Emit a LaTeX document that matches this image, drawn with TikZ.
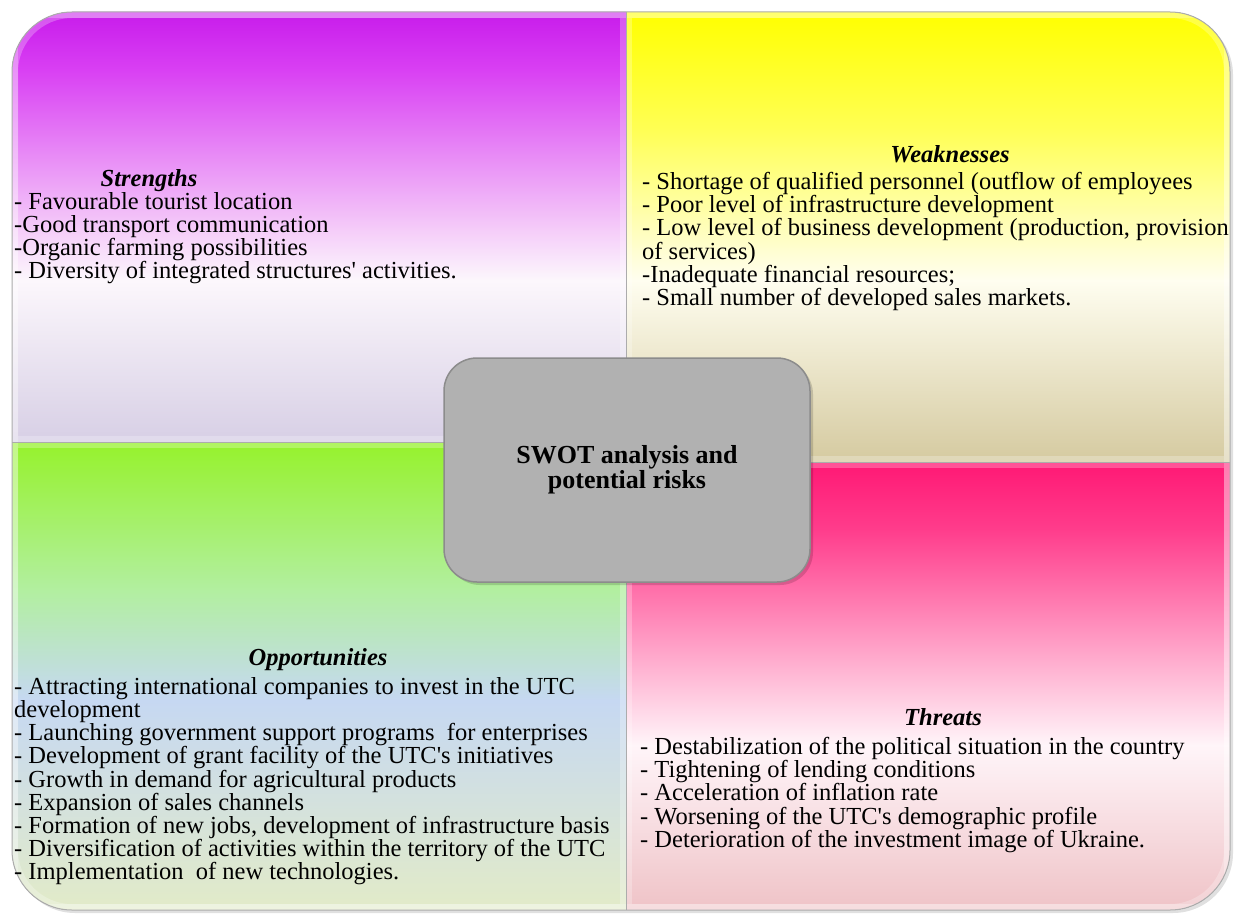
\documentclass[tikz,border=0pt]{standalone}
\usepackage{fontspec}
\setmainfont{Liberation Serif}[Ligatures=TeXOff]
\definecolor{sA}{HTML}{C81CEB}
\definecolor{sB}{HTML}{D940F3}
\definecolor{sC}{HTML}{F5CDF9}
\definecolor{sD}{HTML}{FCF7FC}
\definecolor{sE}{HTML}{D7CFE5}
\definecolor{wA}{HTML}{FFFF00}
\definecolor{wB}{HTML}{FFFF55}
\definecolor{wC}{HTML}{FFFEF0}
\definecolor{wD}{HTML}{D5CAA0}
\definecolor{oA}{HTML}{96F22C}
\definecolor{oB}{HTML}{B2EFA0}
\definecolor{oC}{HTML}{C6D8F2}
\definecolor{oD}{HTML}{E2EBC8}
\definecolor{tA}{HTML}{FF1874}
\definecolor{tB}{HTML}{FF3D8C}
\definecolor{tC}{HTML}{FFF5F9}
\definecolor{tD}{HTML}{EFC3C7}
\definecolor{boxgray}{HTML}{B1B1B1}
\definecolor{boxline}{HTML}{8C8C8C}
\newcommand\gradseg[6]{\fill[top color=#5,bottom color=#6,draw=none] (#1,#3) rectangle (#2,#4);}
\begin{document}
\begin{tikzpicture}[x=1pt,y=-1pt,
  body/.style={anchor=north west, align=left, inner sep=0pt, font=\fontsize{24.5}{23.2}\selectfont},
  ttl/.style={anchor=base, inner sep=0pt, font=\fontsize{24.5}{23.2}\selectfont\bfseries\itshape},
  glow/.style={white, opacity=.25, line width=12pt},
  edge/.style={gray!65, line width=1pt},
  centerbox/.style={draw=boxline, fill=boxgray, line width=1.5pt, rounded corners=33pt,
    minimum width=366pt, minimum height=224pt, align=center, inner sep=0pt,
    font=\fontsize{26}{25}\selectfont\bfseries}]
\useasboundingbox (0,0) rectangle (1234,915);
\fill[white] (0,0) rectangle (1234,915);
% drop shadow of the whole panel
\fill[black, opacity=.12, rounded corners=60pt] (15,15) rectangle (1233,913);
% gradient fills
\begin{scope}
\clip[rounded corners=60pt] (12,12) rectangle (1230,910);
% Strengths
\gradseg{12}{626}{12}{70.5}{sA}{sB}
\gradseg{12}{626}{70}{230.5}{sB}{sC}
\gradseg{12}{626}{230}{280.5}{sC}{sD}
\gradseg{12}{626}{280}{442}{sD}{sE}
% Weaknesses
\gradseg{626}{1230}{12}{130.5}{wA}{wB}
\gradseg{626}{1230}{130}{280.5}{wB}{wC}
\gradseg{626}{1230}{280}{462}{wC}{wD}
% Opportunities
\gradseg{12}{626}{442}{590.5}{oA}{oB}
\gradseg{12}{626}{590}{700.5}{oB}{oC}
\gradseg{12}{626}{700}{910}{oC}{oD}
% Threats
\gradseg{626}{1230}{462}{530.5}{tA}{tB}
\gradseg{626}{1230}{530}{745.5}{tB}{tC}
\gradseg{626}{1230}{745}{910}{tC}{tD}
\end{scope}
% inner bevel glow of each quadrant
\foreach \xa/\ya/\xb/\yb in {12/12/626/442, 626/12/1230/462, 12/442/626/910, 626/462/1230/910}{
  \begin{scope}
  \clip[rounded corners=60pt] (12,12) rectangle (1230,910);
  \clip (\xa,\ya) rectangle (\xb,\yb);
  \draw[glow, rounded corners=60pt] (12,12) rectangle (1230,910);
  \draw[glow] (\xa,\ya) rectangle (\xb,\yb);
  \end{scope}
}
% outlines
\draw[edge, rounded corners=60pt] (12,12) rectangle (1230,910);
\draw[edge] (626,12) -- (626,910);
\draw[edge] (12,442) -- (626,442);
\draw[edge] (626,462) -- (1230,462);
% Strengths
\node[ttl] (sttl) at (149,186) {Strengths};
\node[body] (sbody) at (14,192) {- Favourable tourist location\\
-Good transport communication\\
-Organic farming possibilities\\
- Diversity of integrated structures' activities.};
% Weaknesses
\node[ttl] (wttl) at (950,163) {Weaknesses};
\node[body] (wbody) at (642,172) {- Shortage of qualified personnel (outflow of employees\\
- Poor level of infrastructure development\\
- Low level of business development (production, provision\\
of services)\\
-Inadequate financial resources;\\
- Small number of developed sales markets.};
% Opportunities
\node[ttl] (ottl) at (318,665) {Opportunities};
\node[body] (obody) at (14,677) {- Attracting international companies to invest in the UTC\\
development\\
- Launching government support programs~ for enterprises\\
- Development of grant facility of the UTC's initiatives\\
- Growth in demand for agricultural products\\
- Expansion of sales channels\\
- Formation of new jobs, development of infrastructure basis\\
- Diversification of activities within the territory of the UTC\\
- Implementation~ of new technologies.};
% Threats
\node[ttl] (tttl) at (943,725) {Threats};
\node[body] (tbody) at (640,737) {- Destabilization of the political situation in the country\\
- Tightening of lending conditions\\
- Acceleration of inflation rate\\
- Worsening of the UTC's demographic profile\\
- Deterioration of the investment image of Ukraine.};
% centre
\fill[black, opacity=.15, rounded corners=33pt] (447,361) rectangle (813,585);
\node[centerbox] (swot) at (627,470) {SWOT analysis and\\potential risks};
\end{tikzpicture}
\end{document}
